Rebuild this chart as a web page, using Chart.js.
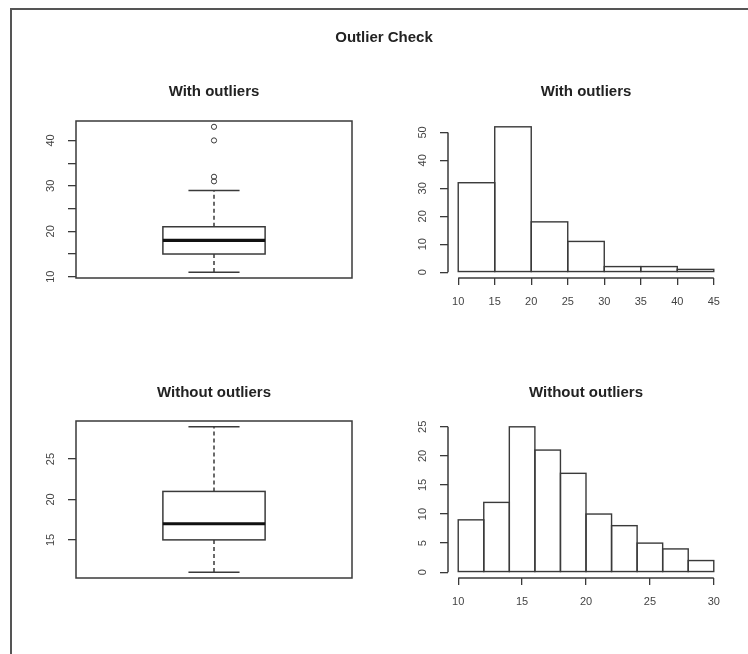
<!DOCTYPE html>
<html>
<head>
<meta charset="utf-8">
<script src="https://cdn.jsdelivr.net/npm/chart.js@4.4.1/dist/chart.umd.min.js"></script>
<style>
  body { margin: 0; background: #fff; }
  #pagina { position: relative; width: 748px; height: 654px; overflow: hidden; background: #fff;
            font-family: 'Liberation Sans', Arial, sans-serif; }
  #moldura { position: absolute; left: 10px; top: 8px; width: 760px; height: 670px;
             border-top: 2px solid #555; border-left: 2px solid #555; }
  canvas { position: absolute; left: 0; top: 0; }
  .titulo { position: absolute; transform: translate(-50%, -50%); font-weight: bold; font-size: 15px;
            line-height: 15px; color: #222; white-space: nowrap; }
</style>
</head>
<body>
<div id="pagina">
  <div id="moldura"></div>
  <canvas id="box-com" width="748" height="654"></canvas>
  <canvas id="hist-com" width="748" height="654"></canvas>
  <canvas id="box-sem" width="748" height="654"></canvas>
  <canvas id="hist-sem" width="748" height="654"></canvas>
  <div class="titulo" style="left:384px; top:36px;">Outlier Check</div>
  <div class="titulo" style="left:214px; top:90px;">With outliers</div>
  <div class="titulo" style="left:586px; top:90px;">With outliers</div>
  <div class="titulo" style="left:214px; top:391px;">Without outliers</div>
  <div class="titulo" style="left:586px; top:391px;">Without outliers</div>
</div>
<script>
// Dados lidos do gráfico
// boxplot com outliers: mínimo, Q1, mediana, Q3, máximo
const boxComStats = [11, 15, 18, 21, 29];
const boxComOutliers = [43, 40, 32, 31];
const boxComTicks = [10, 15, 20, 25, 30, 35, 40];
const boxComLabels = [10, 20, 30, 40];

// boxplot sem outliers
const boxSemStats = [11, 15, 17, 21, 29];
const boxSemOutliers = [];
const boxSemTicks = [15, 20, 25];
const boxSemLabels = [15, 20, 25];

// histograma com outliers
const histComBreaks = [10, 15, 20, 25, 30, 35, 40, 45];
const histComCounts = [32, 52, 18, 11, 2, 2, 1];
const histComXTicks = [10, 15, 20, 25, 30, 35, 40, 45];
const histComYTicks = [0, 10, 20, 30, 40, 50];

// histograma sem outliers
const histSemBreaks = [10, 12, 14, 16, 18, 20, 22, 24, 26, 28, 30];
const histSemCounts = [9, 12, 25, 21, 17, 10, 8, 5, 4, 2];
const histSemXTicks = [10, 15, 20, 25, 30];
const histSemYTicks = [0, 5, 10, 15, 20, 25];

Chart.defaults.font.family = "'Liberation Sans', Arial, sans-serif";
Chart.defaults.color = '#444';

const LARGURA = 748, ALTURA = 654;
const COR_LINHA = '#3a3a3a';
const LARG_EIXO_Y = 50;
const ALT_EIXO_X = 40;

// Função para estender a faixa do eixo como o R (4% de cada lado)
function faixaR(valores) {
  const min = Math.min(...valores), max = Math.max(...valores);
  const d = (max - min) * 0.04;
  return [min - d, max + d];
}

function linha(ctx, x0, y0, x1, y1) {
  ctx.beginPath();
  ctx.moveTo(x0, y0);
  ctx.lineTo(x1, y1);
  ctx.stroke();
}

// Plugin que desenha a caixa do boxplot
const pluginCaixa = {
  id: 'caixaR',
  beforeDatasetsDraw(chart, args, opts) {
    const { ctx, chartArea: a, scales: { x, y } } = chart;
    const [minimo, q1, mediana, q3, maximo] = opts.stats;
    const py = v => y.getPixelForValue(v);
    const xc = x.getPixelForValue(1);
    const x0 = x.getPixelForValue(1 - opts.largura / 2);
    const x1 = x.getPixelForValue(1 + opts.largura / 2);
    const s0 = x.getPixelForValue(1 - opts.largura / 4);
    const s1 = x.getPixelForValue(1 + opts.largura / 4);
    ctx.save();
    ctx.strokeStyle = COR_LINHA;
    ctx.lineWidth = 1.5;
    ctx.strokeRect(a.left, a.top, a.right - a.left, a.bottom - a.top);
    // bigodes
    ctx.setLineDash([4, 3]);
    linha(ctx, xc, py(q3), xc, py(maximo));
    linha(ctx, xc, py(q1), xc, py(minimo));
    ctx.setLineDash([]);
    linha(ctx, s0, py(maximo), s1, py(maximo));
    linha(ctx, s0, py(minimo), s1, py(minimo));
    // caixa
    ctx.strokeRect(x0, py(q3), x1 - x0, py(q1) - py(q3));
    // mediana
    ctx.lineWidth = 3.2;
    ctx.strokeStyle = '#111';
    linha(ctx, x0, py(mediana), x1, py(mediana));
    ctx.restore();
  }
};

// Plugin que contorna as barras e desenha os eixos do histograma (só entre o primeiro e o último tick)
const pluginEixos = {
  id: 'eixosR',
  afterDatasetsDraw(chart) {
    const { ctx, chartArea: a, scales: { x, y } } = chart;
    ctx.save();
    ctx.strokeStyle = COR_LINHA;
    ctx.lineWidth = 1.4;
    // contorno de cada barra, com a linha centrada na borda (divisões com uma linha só)
    chart.getDatasetMeta(0).data.forEach(barra => {
      const p = barra.getProps(['x', 'y', 'base', 'width'], true);
      ctx.strokeRect(p.x - p.width / 2, p.y, p.width, p.base - p.y);
    });
    ctx.lineWidth = 1.5;
    linha(ctx, x.getPixelForValue(x.ticks[0].value), a.bottom,
      x.getPixelForValue(x.ticks[x.ticks.length - 1].value), a.bottom);
    linha(ctx, a.left, y.getPixelForValue(y.ticks[0].value),
      a.left, y.getPixelForValue(y.ticks[y.ticks.length - 1].value));
    ctx.restore();
  }
};

function eixoY(faixa, ticks, rotulos) {
  return {
    min: faixa[0],
    max: faixa[1],
    afterBuildTicks: s => { s.ticks = ticks.map(v => ({ value: v })); },
    afterFit: s => { s.width = LARG_EIXO_Y; },
    border: { display: false },
    grid: { drawOnChartArea: false, tickLength: 8, color: COR_LINHA, lineWidth: 1.3 },
    ticks: {
      minRotation: 90, maxRotation: 90, crossAlign: 'center', padding: 11,
      font: { size: 11 }, color: '#444',
      callback: v => rotulos.includes(v) ? String(v) : ''
    }
  };
}

function layout(area, altX) {
  return {
    padding: {
      left: area.l - LARG_EIXO_Y,
      top: area.t,
      right: LARGURA - area.r,
      bottom: ALTURA - area.b - altX
    }
  };
}

function criarBoxplot(id, area, stats, outliers, ticks, rotulos) {
  new Chart(document.getElementById(id), {
    type: 'scatter',
    data: {
      datasets: [{
        data: outliers.map(v => ({ x: 1, y: v })),
        pointStyle: 'circle',
        pointRadius: 2.6,
        borderWidth: 1,
        borderColor: COR_LINHA,
        backgroundColor: 'rgba(0,0,0,0)'
      }]
    },
    options: {
      responsive: false,
      animation: false,
      layout: layout(area, 0),
      plugins: {
        legend: { display: false },
        tooltip: { enabled: false },
        caixaR: { stats: stats, largura: 0.4 }
      },
      scales: {
        x: { type: 'linear', display: false, min: 0.46, max: 1.54 },
        y: eixoY(faixaR(stats.concat(outliers)), ticks, rotulos)
      }
    },
    plugins: [pluginCaixa]
  });
}

function criarHistograma(id, area, breaks, counts, xTicks, yTicks) {
  const pontos = counts.map((c, i) => ({ x: (breaks[i] + breaks[i + 1]) / 2, y: c }));
  new Chart(document.getElementById(id), {
    type: 'bar',
    data: {
      datasets: [{
        data: pontos,
        backgroundColor: '#fff',
        borderWidth: 0,
        inflateAmount: 0,
        barPercentage: 1,
        categoryPercentage: 1
      }]
    },
    options: {
      responsive: false,
      animation: false,
      layout: layout(area, ALT_EIXO_X),
      plugins: { legend: { display: false }, tooltip: { enabled: false } },
      scales: {
        x: {
          type: 'linear',
          offset: false,
          min: faixaR(breaks)[0],
          max: faixaR(breaks)[1],
          afterBuildTicks: s => { s.ticks = xTicks.map(v => ({ value: v })); },
          afterFit: s => { s.height = ALT_EIXO_X; },
          border: { display: false },
          grid: { offset: false, drawOnChartArea: false, tickLength: 7, color: COR_LINHA, lineWidth: 1.3 },
          ticks: { padding: 10, font: { size: 11 }, color: '#444', maxRotation: 0 }
        },
        y: eixoY(faixaR([0].concat(counts)), yTicks, yTicks)
      }
    },
    plugins: [pluginEixos]
  });
}

criarBoxplot('box-com', { l: 76, t: 121, r: 352, b: 278 }, boxComStats, boxComOutliers, boxComTicks, boxComLabels);
criarHistograma('hist-com', { l: 448, t: 121, r: 724, b: 278 }, histComBreaks, histComCounts, histComXTicks, histComYTicks);
criarBoxplot('box-sem', { l: 76, t: 421, r: 352, b: 578 }, boxSemStats, boxSemOutliers, boxSemTicks, boxSemLabels);
criarHistograma('hist-sem', { l: 448, t: 421, r: 724, b: 578 }, histSemBreaks, histSemCounts, histSemXTicks, histSemYTicks);
</script>
</body>
</html>
